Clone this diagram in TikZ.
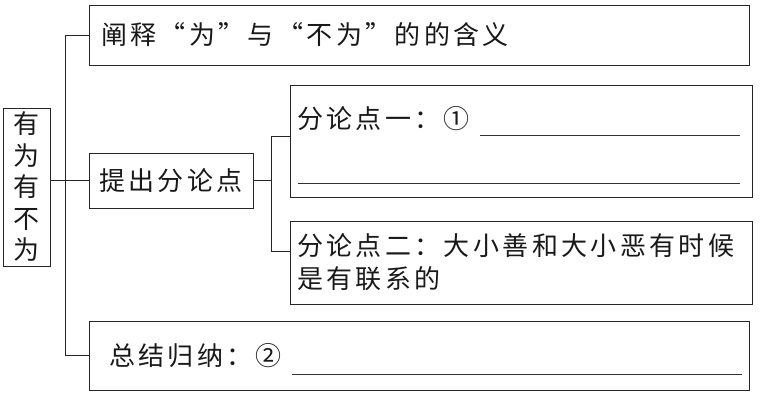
\documentclass[tikz,border=0pt]{standalone}
\usepackage{fontspec}
\newfontfamily\cjkfont[LetterSpace=13]{Noto Sans CJK SC}
\usetikzlibrary{positioning,calc}
\tikzset{
  framebox/.style={
    draw=black!85,
    line width=0.9pt,
    inner xsep=8pt,
    inner ysep=0pt,
    align=left,
    text=black!90,
    font=\cjkfont\fontsize{26}{33}\selectfont
  },
  rootbox/.style={framebox, align=center, inner xsep=0pt, font=\cjkfont\fontsize{26}{31.5}\selectfont},
  link/.style={draw=black!85, line width=0.9pt},
  blankline/.style={draw=black!80, line width=0.7pt}
}
\begin{document}
\begin{tikzpicture}[x=1pt, y=-1pt]
\useasboundingbox (0,0) rectangle (760,394);

\node[rootbox, minimum width=47pt, minimum height=158pt] (root) at (26.5,187) {有\\为\\有\\不\\为};
\node[framebox, inner xsep=12pt, text width=636pt, minimum height=60pt] (explain) at (419,35) {阐释“为”与“不为”的的含义};
\node[framebox, align=center, minimum width=164pt, minimum height=55pt] (propose) at (171,180.5) {提出分论点};
\node[framebox, inner xsep=7pt, text width=448pt, minimum height=112pt] (pointA) at (521,141) {分论点一：①\\[14pt]\mbox{}};
\node[framebox, inner xsep=7pt, text width=448pt, minimum height=83pt] (pointB) at (521,262.5) {分论点二：大小善和大小恶有时候\\是有联系的};
\node[framebox, inner xsep=20pt, text width=620pt, minimum height=69pt] (summary) at (419,355.5) {总结归纳：②};

% tree connectors
\coordinate (trunk) at (65,0);
\coordinate (branch) at (271,0);
\coordinate (pAin) at ([yshift=5pt]pointA.west);
\coordinate (pBin) at ([yshift=11.5pt]pointB.west);
\draw[link] (explain.west) -| (trunk |- summary.west) -- (summary.west);
\draw[link] (root.east |- propose.west) -- (propose.west);
\draw[link] (propose.east) -- (propose.east -| branch);
\draw[link] (pAin) -| (branch |- pBin) -- (pBin);

% answer blanks
\draw[blankline] (480,135) -- (740,135);
\draw[blankline] (298,183) -- (740,183);
\draw[blankline] (292,374) -- (742,374);
\end{tikzpicture}
\end{document}
